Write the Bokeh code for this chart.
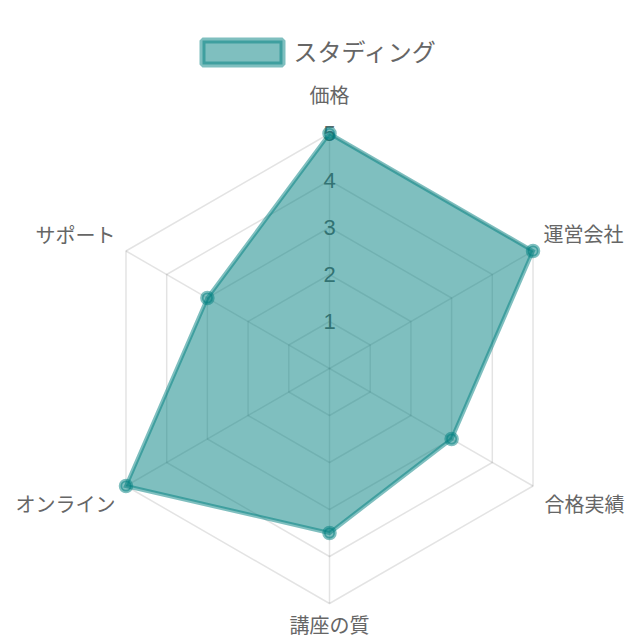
import math
from bokeh.plotting import figure
from bokeh.models import Range1d, ColumnDataSource
from bokeh.core.properties import value
from bokeh.embed import file_html
from bokeh.resources import INLINE

# ---- data ----
categories = ["価格", "運営会社", "合格実績", "講座の質", "オンライン", "サポート"]
series_name = "スタディング"
scores = [5, 5, 3, 3.5, 5, 3]
tick_values = [1, 2, 3, 4, 5]
tick_labels = ["1", "2", "3", "4", "5"]
scale_max = 5

# ---- layout (pixels) ----
W = H = 640
CX, CY = 329, 368            # centre inside the plot frame
UNIT = 47.0                  # pixels per score unit

def X(px):
    return (px - CX) / UNIT

def Y(py):
    return (CY - py) / UNIT

p = figure(width=W, height=H, output_backend="svg", toolbar_location=None,
           x_range=Range1d(X(0), X(W)), y_range=Range1d(Y(H), Y(0)),
           x_axis_type=None, y_axis_type=None, min_border=0)
p.outline_line_color = None
p.xgrid.visible = False
p.ygrid.visible = False
p.background_fill_color = "white"

n = len(categories)
angles = [math.pi / 2 - i * 2 * math.pi / n for i in range(n)]

def pt(r, a):
    return r * math.cos(a), r * math.sin(a)

grid_col = "#000000"
# rings
for t in tick_values:
    xs = [pt(t, a)[0] for a in angles] + [pt(t, angles[0])[0]]
    ys = [pt(t, a)[1] for a in angles] + [pt(t, angles[0])[1]]
    p.line(xs, ys, line_color=grid_col, line_alpha=0.11, line_width=1.5)
# angle lines
for a in angles:
    ex, ey = pt(scale_max, a)
    p.line([0, ex], [0, ey], line_color=grid_col, line_alpha=0.11, line_width=1.5)

# tick labels
p.text(x=[0] * len(tick_values), y=tick_values, text=tick_labels,
       text_font=value("Liberation Sans"), text_font_size="22px",
       text_color="#666666", text_align="center", text_baseline="middle")

# dataset
teal = "#008080"
px_ = [pt(s, a)[0] for s, a in zip(scores, angles)]
py_ = [pt(s, a)[1] for s, a in zip(scores, angles)]
p.patch(px_, py_, fill_color=teal, fill_alpha=0.5, line_color=teal,
        line_alpha=0.5, line_width=4, line_join="miter")
p.scatter(px_, py_, size=11, fill_color=teal, fill_alpha=0.5,
          line_color=teal, line_alpha=0.5, line_width=3.5)

# point labels
lx = [pt(scale_max, a)[0] for a in angles]
ly = [pt(scale_max, a)[1] for a in angles]
x_off = [0, 10.5, 11.5, 0, -10.5, -10.5]
y_off = [-39.5, -17.5, 17, 21, 17, -17]
align = ["center", "left", "left", "center", "right", "right"]
src = ColumnDataSource(dict(x=lx, y=ly, t=categories, xo=x_off, yo=y_off, al=align))
p.text(x="x", y="y", text="t", x_offset="xo", y_offset="yo", text_align="al",
       source=src, text_font=value("Noto Sans CJK JP"), text_font_size="20px",
       text_color="#666666", text_baseline="middle")

# legend
p.rect(x=[X(242)], y=[Y(52)], width=80, height=24,
       width_units="screen", height_units="screen",
       fill_color=teal, fill_alpha=0.5, line_color=teal, line_alpha=0.5,
       line_width=6)
p.text(x=[X(293)], y=[Y(50)], text=[series_name],
       text_font=value("Noto Sans CJK JP"), text_font_size="24px",
       text_color="#666666", text_align="left", text_baseline="middle")

open("out.html", "w").write(file_html(p, INLINE))
